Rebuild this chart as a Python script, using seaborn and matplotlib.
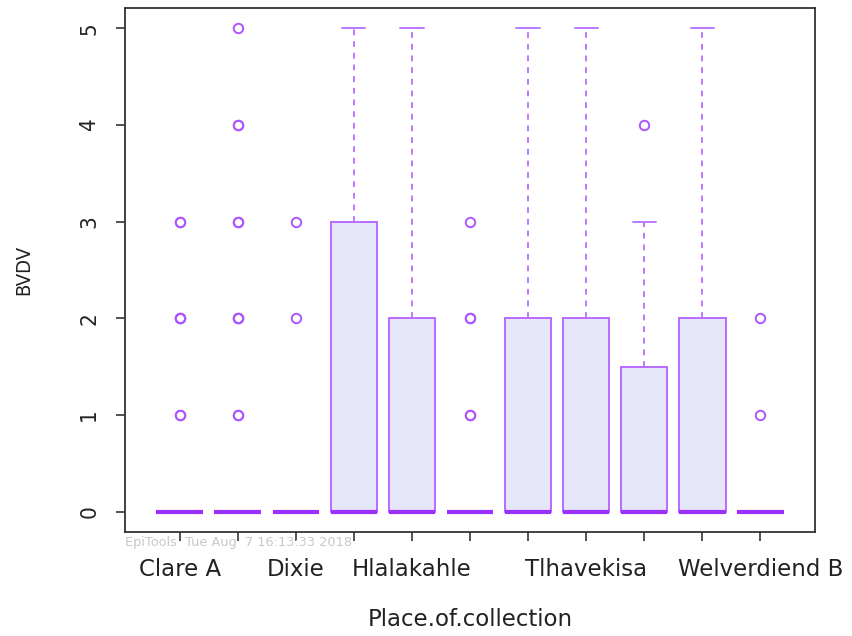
import numpy as np
import pandas as pd
import matplotlib
matplotlib.use("Agg")
import matplotlib.pyplot as plt
import seaborn as sns

# Places of collection (dip tanks), in factor order
places = ["Clare A", "Clare B", "Dixie", "Gottenburg", "Hlalakahle", "Hluvukani",
          "Share", "Tlhavekisa", "Utah", "Welverdiend A", "Welverdiend B"]
# Labels that fit on the axis without overlapping
shown = ["Clare A", "", "Dixie", "", "Hlalakahle", "", "", "Tlhavekisa", "", "", "Welverdiend B"]

# BVDV scores 0..5 and number of animals with each score, per place
scores = [0, 1, 2, 3, 4, 5]
clare_a       = [30, 2, 3, 2, 0, 0]
clare_b       = [36, 2, 3, 2, 2, 1]
dixie         = [25, 0, 1, 1, 0, 0]
gottenburg    = [12, 2, 2, 3, 2, 2]
hlalakahle    = [14, 3, 4, 2, 1, 1]
hluvukani     = [30, 2, 2, 1, 0, 0]
share         = [14, 3, 4, 2, 1, 1]
tlhavekisa    = [16, 3, 4, 2, 2, 1]
utah          = [6, 2, 1, 1, 1, 0]
welverdiend_a = [14, 3, 4, 2, 1, 1]
welverdiend_b = [20, 1, 1, 0, 0, 0]

counts = [clare_a, clare_b, dixie, gottenburg, hlalakahle, hluvukani,
          share, tlhavekisa, utah, welverdiend_a, welverdiend_b]

rows = []
for place, cnt in zip(places, counts):
    for s, c in zip(scores, cnt):
        rows += [(place, s)] * c
df = pd.DataFrame(rows, columns=["Place.of.collection", "BVDV"])

sns.set_style("white")
plt.rcParams["font.family"] = ["DejaVu Sans"]

edge = "#B560FF"
whisk = "#BE78FF"
dark = "#9B30FF"

fig = plt.figure(figsize=(8.52, 6.36), dpi=100)
ax = fig.add_axes([0.1467, 0.1635, 0.8099, 0.8239])

sns.boxplot(
    data=df, x="Place.of.collection", y="BVDV", order=places,
    color="#E6E6FA", linecolor=edge, width=0.8, whis=1.5, ax=ax,
    boxprops=dict(edgecolor=edge, facecolor="#E6E6FA", linewidth=1.3),
    whiskerprops=dict(color=whisk, linestyle=(0, (3, 3)), linewidth=1.4),
    capprops=dict(color=whisk, linewidth=1.4),
    medianprops=dict(color=dark, linewidth=3.0, solid_capstyle="butt"),
    flierprops=dict(marker="o", markerfacecolor="none", markeredgecolor="#AE55FF",
                    markersize=6.8, markeredgewidth=1.4),
)

ax.set_xlim(-0.94, 10.94)
ax.set_ylim(-0.21, 5.21)
ax.set_yticks([0, 1, 2, 3, 4, 5])
ax.set_yticklabels(["0", "1", "2", "3", "4", "5"], rotation=90, va="center",
                   fontsize=16, fontstretch="condensed")
ax.set_xticks(range(len(places)))
ax.set_xticklabels(shown, fontsize=16.5)
ax.tick_params(axis="both", direction="out", length=6.5, width=1.2, color="#333333",
               labelcolor="#222222", bottom=True, left=True)
ax.tick_params(axis="x", pad=12)
ax.tick_params(axis="y", pad=12)
ax.set_xlabel("Place.of.collection", fontsize=16.5, labelpad=20, color="#222222")
ax.set_ylabel("BVDV", fontsize=14.5, labelpad=33, color="#222222", fontstretch="condensed")
for sp in ax.spines.values():
    sp.set_visible(True)
    sp.set_color("#333333")
    sp.set_linewidth(1.3)

fig.text(0.1467, 0.147, "EpiTools  Tue Aug  7 16:13:33 2018", fontsize=9.3,
         color="#C8C8C8", ha="left", va="center")

fig.savefig("out.png", dpi=100, facecolor="white")
